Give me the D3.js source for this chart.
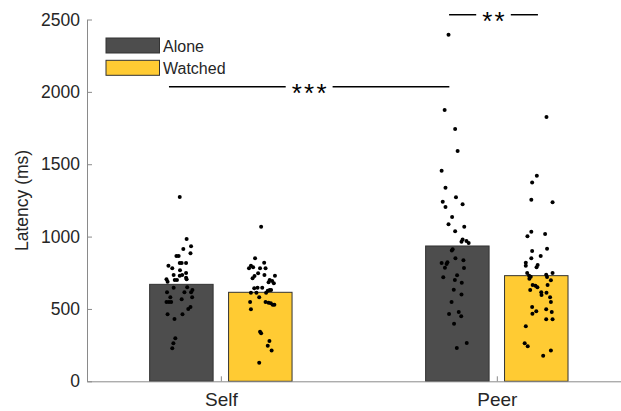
<!DOCTYPE html>
<html>
<head>
<meta charset="utf-8">
<script src="https://cdn.jsdelivr.net/npm/d3@7"></script>
<style>
  body { margin: 0; background: #fff; }
  svg { font-family: "Liberation Sans", Arial, sans-serif; }
</style>
</head>
<body>
<div id="chart"></div>
<script>
const categories = ["Self", "Peer"];
const conditions = ["Alone", "Watched"];
const conditionColors = ["#4d4d4d", "#ffcb33"];
const meanAlone = [670, 935];
const meanWatched = [615, 730];
const yTicks = [0, 500, 1000, 1500, 2000, 2500];

// [jitter (category units), latency ms] per participant
const selfAlone = [
  [-0.006, 1274], [0.019, 983], [0.007, 914], [0.035, 933], [0.033, 885],
  [-0.018, 866], [-0.010, 866], [-0.006, 818], [0.001, 818], [0.017, 818],
  [-0.047, 799], [-0.033, 781], [-0.005, 767], [0.017, 748], [-0.028, 735],
  [-0.006, 730], [0.003, 735], [0.017, 716], [0.019, 705], [-0.054, 705],
  [-0.050, 688], [-0.024, 700], [-0.016, 700], [-0.028, 647], [0.021, 650],
  [0.040, 631], [-0.052, 615], [0.011, 615], [0.035, 615], [-0.040, 580],
  [-0.054, 548], [-0.045, 548], [-0.037, 548], [0.001, 567], [0.039, 580],
  [0.033, 513], [0.025, 500], [-0.050, 463], [0.004, 463], [-0.025, 430],
  [-0.022, 297], [-0.029, 263], [-0.033, 228]
];
const selfWatched = [
  [0.003, 1068], [-0.019, 850], [0.014, 820], [-0.034, 799], [-0.026, 788],
  [-0.041, 781], [-0.001, 781], [0.019, 781], [-0.008, 746], [0.015, 735],
  [-0.021, 728], [-0.028, 712], [0.053, 730], [0.034, 700], [0.043, 693],
  [0.049, 677], [0.030, 684], [-0.010, 647], [0.007, 647], [-0.022, 643],
  [0.027, 626], [0.034, 631], [0.039, 631], [-0.034, 612], [-0.014, 612],
  [0.021, 612], [-0.004, 580], [-0.037, 548], [0.019, 548], [0.030, 543],
  [0.038, 539], [0.045, 529], [0.051, 529], [-0.034, 498], [-0.001, 343],
  [0.003, 332], [0.033, 279], [0.027, 246], [0.041, 212], [-0.004, 129]
];
const peerAlone = [
  [-0.032, 2395], [-0.046, 1875], [-0.008, 1744], [0.001, 1592], [-0.057, 1455],
  [-0.043, 1338], [-0.005, 1271], [-0.053, 1241], [-0.043, 1205], [0.019, 1223],
  [-0.019, 1135], [-0.032, 1085], [0.025, 1068], [-0.008, 1037], [0.019, 979],
  [0.015, 965], [0.033, 970], [0.041, 956], [-0.017, 912], [-0.020, 903],
  [-0.007, 850], [0.022, 836], [-0.057, 818], [-0.039, 811], [-0.045, 785],
  [-0.036, 822], [0.024, 783], [-0.051, 719], [-0.001, 733], [-0.009, 700],
  [0.016, 681], [-0.013, 633], [0.015, 599], [-0.021, 548], [0.005, 479],
  [-0.030, 465], [0.014, 449], [-0.012, 398], [0.034, 265], [-0.002, 230]
];
const peerWatched = [
  [0.037, 1827], [0.002, 1421], [-0.015, 1373], [-0.018, 1255], [0.059, 1237],
  [-0.018, 1034], [-0.032, 1002], [0.032, 1018], [-0.015, 900], [0.039, 916],
  [-0.018, 850], [0.016, 866], [-0.038, 820], [-0.038, 799], [0.005, 804],
  [0.001, 788], [-0.033, 748], [-0.026, 730], [-0.020, 723], [-0.025, 709],
  [0.036, 737], [0.039, 721], [0.059, 748], [0.053, 698], [-0.013, 666],
  [-0.003, 661], [0.004, 650], [0.041, 666], [-0.022, 631], [0.018, 615],
  [0.019, 596], [0.037, 612], [0.050, 580], [0.053, 548], [-0.015, 513],
  [0.000, 484], [-0.014, 467], [0.036, 498], [0.056, 479], [0.036, 428],
  [0.059, 428], [-0.038, 380], [-0.042, 263], [-0.031, 242], [0.053, 212],
  [0.025, 177]
];

const sigLabels = ["***", "**"];
const sigFrom = [0.812, 1.827];
const sigTo = [1.828, 2.149];
const sigLevel = [2035, 2533];

const width = 621, height = 411;
const barOffset = 0.143, barWidth = 0.23;

const svg = d3.select("#chart").append("svg")
  .attr("width", width).attr("height", height);

const x = d3.scaleLinear().domain([0.515, 2.45]).range([87, 621]);
const y = d3.scaleLinear().domain([0, 2500]).range([381.3, 19.5]);

// bars
const bars = [];
categories.forEach((c, i) => {
  bars.push({ pos: i + 1 - barOffset, value: meanAlone[i], color: conditionColors[0] });
  bars.push({ pos: i + 1 + barOffset, value: meanWatched[i], color: conditionColors[1] });
});

svg.append("g").selectAll("rect").data(bars).join("rect")
  .attr("x", d => x(d.pos - barWidth / 2))
  .attr("width", d => x(d.pos + barWidth / 2) - x(d.pos - barWidth / 2))
  .attr("y", d => y(d.value))
  .attr("height", d => y(0) - y(d.value))
  .attr("fill", d => d.color)
  .attr("stroke", "#333")
  .attr("stroke-width", 1);

// dots
const clouds = [
  { pos: 1 - barOffset, pts: selfAlone },
  { pos: 1 + barOffset, pts: selfWatched },
  { pos: 2 - barOffset, pts: peerAlone },
  { pos: 2 + barOffset, pts: peerWatched }
];
const dots = svg.append("g");
clouds.forEach(cl => {
  dots.selectAll(null).data(cl.pts).join("circle")
    .attr("cx", d => x(cl.pos + d[0]))
    .attr("cy", d => y(d[1]))
    .attr("r", 2)
    .attr("fill", "#000");
});

// axes
const axisColor = "#8a8a8a";
const textColor = "#262626";

const yAxis = svg.append("g")
  .attr("transform", `translate(${x(0.515)},0)`)
  .call(d3.axisLeft(y).tickValues(yTicks).tickFormat(d3.format("d"))
    .tickSizeInner(-5).tickSizeOuter(0).tickPadding(7));
yAxis.select(".domain").attr("stroke", axisColor);
yAxis.selectAll(".tick line").attr("stroke", axisColor);
yAxis.selectAll(".tick text").attr("fill", textColor).style("font-size", "17.5px")
  .style("font-family", "'Liberation Sans', Arial, sans-serif");

const xAxis = svg.append("g")
  .attr("transform", `translate(0,${y(0)})`)
  .call(d3.axisBottom(x).tickValues([1, 2]).tickFormat(d => categories[d - 1])
    .tickSizeInner(-5).tickSizeOuter(0).tickPadding(11));
xAxis.select(".domain").attr("stroke", axisColor);
xAxis.selectAll(".tick line").attr("stroke", axisColor);
xAxis.selectAll(".tick text").attr("fill", textColor).style("font-size", "19px")
  .style("font-family", "'Liberation Sans', Arial, sans-serif");

svg.append("text")
  .attr("transform", `translate(28,${(y(0) + y(2500)) / 2}) rotate(-90)`)
  .attr("text-anchor", "middle")
  .attr("fill", textColor)
  .style("font-size", "17.5px")
  .text("Latency (ms)");

// significance
sigLabels.forEach((lab, i) => {
  const mid = (x(sigFrom[i]) + x(sigTo[i])) / 2;
  const gap = lab.length * 12.3 / 2 + 5;
  const ly = y(sigLevel[i]);
  svg.append("line").attr("x1", x(sigFrom[i])).attr("x2", mid - gap)
    .attr("y1", ly).attr("y2", ly).attr("stroke", "#000").attr("stroke-width", 1.5);
  svg.append("line").attr("x1", mid + gap).attr("x2", x(sigTo[i]))
    .attr("y1", ly).attr("y2", ly).attr("stroke", "#000").attr("stroke-width", 1.5);
  svg.append("text")
    .attr("x", mid + 1.1).attr("y", ly + 15)
    .attr("text-anchor", "middle")
    .style("font-size", "26px")
    .style("letter-spacing", "2.2px")
    .attr("fill", "#000")
    .text(lab);
});

// legend
const legend = svg.append("g").attr("transform", "translate(106,38)");
conditions.forEach((c, i) => {
  const g = legend.append("g").attr("transform", `translate(0,${i * 22.3})`);
  g.append("rect").attr("width", 53.5).attr("height", 15)
    .attr("fill", conditionColors[i]).attr("stroke", "#333").attr("stroke-width", 1);
  g.append("text").attr("x", 57).attr("y", 14).attr("fill", textColor)
    .style("font-size", "16px").text(c);
});
</script>
</body>
</html>
